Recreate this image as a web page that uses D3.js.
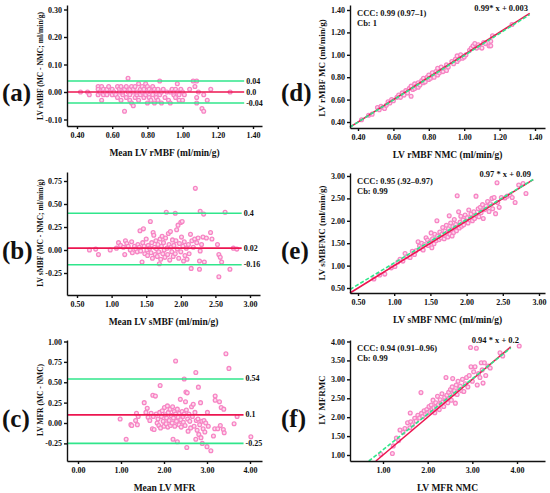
<!DOCTYPE html>
<html>
<head>
<meta charset="utf-8">
<script src="https://cdn.jsdelivr.net/npm/d3@7"></script>
<style>
  body { margin: 0; background: #fff; }
  text { font-family: "Liberation Serif", "Times New Roman", serif; font-weight: bold; fill: #111; }
</style>
</head>
<body>
<div id="chart"></div>
<script>
// DATA ----------------------------------------------------------------------
// Bland-Altman panels: [mean, difference MC - NMC]
const baRmbf = [[0.42,0.00],[0.46,0.00],[0.47,-0.01],[0.52,0.02],[0.52,0.01],[0.52,-0.01],[0.53,0.00],[0.54,0.02],[0.54,-0.03],[0.55,0.01],[0.55,-0.01],[0.56,0.00],[0.57,0.01],[0.57,-0.01],[0.58,0.02],[0.59,0.00],[0.60,-0.01],[0.60,0.01],[0.61,0.00],[0.62,-0.01],[0.63,0.02],[0.63,-0.02],[0.64,0.01],[0.64,0.00],[0.65,-0.03],[0.65,0.02],[0.66,-0.01],[0.66,0.00],[0.67,-0.07],[0.67,0.01],[0.68,-0.02],[0.68,0.02],[0.69,0.05],[0.69,0.00],[0.70,-0.01],[0.70,0.01],[0.70,-0.03],[0.71,0.02],[0.71,-0.04],[0.72,-0.05],[0.72,0.00],[0.72,0.01],[0.73,-0.02],[0.73,0.02],[0.74,-0.01],[0.74,0.00],[0.75,0.03],[0.75,-0.03],[0.76,0.01],[0.76,-0.01],[0.77,0.00],[0.77,0.02],[0.78,-0.02],[0.78,0.01],[0.79,0.03],[0.79,-0.01],[0.80,0.00],[0.80,-0.04],[0.80,0.02],[0.81,-0.02],[0.81,0.01],[0.82,-0.03],[0.82,0.00],[0.83,0.02],[0.83,-0.01],[0.84,-0.04],[0.84,0.01],[0.85,0.00],[0.85,-0.02],[0.86,0.01],[0.86,-0.03],[0.87,0.04],[0.87,-0.01],[0.88,0.00],[0.88,-0.04],[0.89,0.01],[0.90,-0.02],[0.91,0.00],[0.92,-0.03],[0.93,0.00],[0.93,-0.04],[0.94,0.01],[0.95,-0.01],[0.95,0.00],[0.96,-0.02],[0.96,0.01],[0.97,0.03],[0.97,0.00],[0.98,-0.01],[0.98,-0.03],[0.99,0.01],[1.00,-0.03],[1.00,0.00],[1.01,-0.01],[1.04,0.01],[1.06,0.04],[1.07,0.02],[1.08,0.04],[1.08,-0.02],[1.08,-0.04],[1.09,0.00],[1.11,-0.06],[1.12,-0.07],[1.12,-0.01],[1.14,-0.03],[1.16,0.01],[1.27,0.00]];

const baSmbf = [[0.68,0.00],[0.77,0.01],[0.81,-0.05],[0.98,0.00],[1.07,0.02],[1.10,0.08],[1.13,0.05],[1.17,0.03],[1.19,-0.05],[1.20,0.10],[1.22,0.07],[1.24,0.04],[1.27,0.00],[1.29,0.09],[1.30,-0.03],[1.33,0.04],[1.35,0.01],[1.37,-0.02],[1.38,0.06],[1.40,0.03],[1.41,0.21],[1.42,-0.01],[1.44,-0.13],[1.45,0.08],[1.46,0.23],[1.47,0.04],[1.48,-0.04],[1.50,0.12],[1.51,0.00],[1.52,-0.06],[1.53,0.05],[1.55,0.02],[1.56,0.31],[1.57,-0.03],[1.58,0.08],[1.59,-0.09],[1.60,0.19],[1.61,0.16],[1.62,0.03],[1.63,-0.05],[1.64,0.10],[1.65,0.01],[1.66,-0.07],[1.67,0.06],[1.68,-0.02],[1.69,-0.15],[1.70,0.12],[1.71,-0.10],[1.72,0.04],[1.73,0.15],[1.74,-0.04],[1.75,0.08],[1.76,0.00],[1.77,-0.08],[1.78,0.13],[1.79,0.41],[1.80,0.02],[1.81,-0.05],[1.82,0.18],[1.83,0.06],[1.84,-0.11],[1.85,0.20],[1.86,0.03],[1.87,-0.02],[1.88,0.11],[1.89,-0.07],[1.90,0.05],[1.92,0.40],[1.92,-0.04],[1.93,0.10],[1.94,0.22],[1.95,0.01],[1.96,0.27],[1.97,-0.09],[1.98,0.07],[2.00,0.30],[2.00,-0.02],[2.01,0.14],[2.02,0.31],[2.03,0.04],[2.04,-0.12],[2.05,0.09],[2.06,-0.06],[2.08,0.02],[2.09,-0.10],[2.11,0.06],[2.12,-0.04],[2.14,0.17],[2.15,-0.20],[2.16,0.10],[2.18,0.03],[2.20,0.12],[2.21,0.67],[2.23,0.08],[2.25,0.13],[2.27,-0.21],[2.27,-0.12],[2.28,0.42],[2.28,-0.01],[2.30,0.06],[2.32,0.14],[2.33,0.39],[2.34,-0.13],[2.37,0.13],[2.43,0.19],[2.45,0.12],[2.53,0.06],[2.55,-0.05],[2.55,-0.29],[2.57,-0.08],[2.59,-0.13],[2.64,0.41],[2.71,-0.21],[2.76,0.02],[2.81,0.01]];

const baMfr = [[0.98,0.05],[1.12,-0.20],[1.23,-0.02],[1.25,-0.03],[1.34,0.03],[1.36,0.12],[1.38,-0.02],[1.40,0.08],[1.54,0.25],[1.58,0.13],[1.61,0.18],[1.63,0.07],[1.67,0.03],[1.70,0.12],[1.73,-0.07],[1.74,0.34],[1.75,0.08],[1.77,-0.08],[1.80,0.33],[1.82,0.11],[1.84,0.00],[1.86,0.05],[1.88,-0.03],[1.90,0.13],[1.91,0.46],[1.92,-0.06],[1.94,0.08],[1.96,0.15],[1.98,0.02],[2.00,-0.04],[2.01,0.19],[2.03,0.10],[2.05,-0.01],[2.06,0.06],[2.08,0.21],[2.09,-0.05],[2.10,0.13],[2.12,0.03],[2.14,0.17],[2.15,-0.03],[2.17,0.09],[2.19,0.00],[2.20,0.20],[2.21,-0.20],[2.22,0.06],[2.24,0.14],[2.25,-0.04],[2.27,0.76],[2.27,0.11],[2.29,0.02],[2.31,-0.23],[2.31,0.17],[2.33,0.07],[2.35,-0.02],[2.36,0.12],[2.38,0.29],[2.39,0.04],[2.40,-0.05],[2.42,0.14],[2.44,0.08],[2.45,0.01],[2.47,0.54],[2.47,0.11],[2.49,-0.03],[2.50,0.26],[2.51,0.38],[2.52,0.16],[2.53,-0.30],[2.54,0.37],[2.55,0.05],[2.56,-0.10],[2.58,0.11],[2.60,0.02],[2.62,-0.06],[2.64,0.20],[2.66,0.08],[2.68,0.23],[2.70,-0.04],[2.72,0.13],[2.74,0.62],[2.74,-0.20],[2.75,0.03],[2.77,-0.09],[2.79,0.05],[2.80,0.44],[2.81,-0.14],[2.83,-0.02],[2.85,0.25],[2.86,-0.18],[2.88,0.02],[2.89,-0.25],[2.91,-0.07],[2.93,0.03],[2.95,-0.11],[2.97,0.00],[3.00,-0.29],[3.01,0.13],[3.03,-0.04],[3.09,-0.34],[3.15,-0.16],[3.18,-0.07],[3.19,0.33],[3.19,0.28],[3.25,-0.07],[3.29,0.26],[3.31,-0.03],[3.33,0.19],[3.38,-0.08],[3.39,0.17],[3.40,-0.12],[3.44,0.85],[3.51,0.67],[3.63,-0.01],[3.70,0.08],[4.02,-0.17]];

// Correlation panels: [NMC, MC]
const scRmbf = [[0.42,0.42],[0.46,0.46],[0.48,0.47],[0.51,0.53],[0.52,0.51],[0.53,0.54],[0.54,0.53],[0.55,0.52],[0.56,0.55],[0.57,0.58],[0.58,0.57],[0.59,0.60],[0.60,0.59],[0.62,0.62],[0.63,0.64],[0.64,0.62],[0.65,0.66],[0.66,0.64],[0.67,0.68],[0.68,0.66],[0.69,0.70],[0.70,0.63],[0.70,0.72],[0.71,0.69],[0.72,0.74],[0.72,0.70],[0.73,0.72],[0.74,0.75],[0.74,0.71],[0.75,0.73],[0.76,0.77],[0.77,0.75],[0.77,0.79],[0.78,0.76],[0.79,0.80],[0.80,0.78],[0.80,0.82],[0.81,0.79],[0.82,0.81],[0.82,0.84],[0.83,0.80],[0.84,0.85],[0.85,0.82],[0.85,0.88],[0.86,0.84],[0.87,0.86],[0.87,0.89],[0.88,0.85],[0.89,0.88],[0.90,0.86],[0.90,0.91],[0.91,0.89],[0.93,0.94],[0.94,0.92],[0.95,0.96],[0.96,0.94],[0.96,0.99],[0.97,0.96],[0.98,1.00],[0.99,0.97],[1.00,0.98],[1.01,1.00],[1.03,1.04],[1.04,1.06],[1.05,1.08],[1.06,1.10],[1.07,1.06],[1.08,1.09],[1.09,1.07],[1.10,1.06],[1.11,1.11],[1.12,1.10],[1.14,1.08],[1.15,1.12],[1.15,1.08],[1.16,1.17],[1.27,1.27]];

const scSmbf = [[0.72,0.70],[0.80,0.79],[0.87,0.81],[0.96,0.95],[1.01,0.98],[1.05,1.08],[1.08,1.14],[1.12,1.10],[1.15,1.27],[1.18,1.20],[1.22,1.18],[1.25,1.32],[1.28,1.25],[1.30,1.33],[1.33,1.53],[1.35,1.44],[1.36,1.38],[1.38,1.50],[1.40,1.35],[1.42,1.47],[1.44,1.62],[1.46,1.57],[1.47,1.45],[1.49,1.52],[1.51,1.73],[1.52,1.40],[1.53,1.60],[1.55,1.49],[1.56,1.70],[1.58,1.56],[1.59,2.00],[1.60,1.66],[1.62,1.58],[1.63,1.75],[1.65,1.62],[1.66,1.70],[1.67,1.85],[1.69,1.60],[1.70,1.77],[1.71,1.67],[1.72,1.90],[1.73,1.72],[1.74,1.64],[1.75,1.82],[1.76,2.11],[1.77,1.70],[1.78,1.95],[1.79,1.78],[1.80,1.66],[1.81,1.87],[1.82,1.74],[1.83,2.03],[1.84,1.82],[1.85,1.92],[1.86,1.78],[1.87,2.56],[1.88,1.86],[1.89,2.20],[1.90,1.84],[1.91,1.97],[1.92,2.10],[1.93,1.88],[1.95,2.02],[1.96,1.91],[1.98,2.13],[2.00,1.98],[2.01,2.07],[2.02,1.95],[2.03,2.24],[2.05,2.02],[2.06,2.15],[2.08,2.00],[2.10,2.20],[2.11,2.05],[2.13,2.55],[2.14,2.12],[2.16,2.27],[2.17,2.09],[2.19,2.30],[2.20,2.18],[2.22,2.36],[2.23,2.05],[2.25,2.25],[2.27,2.33],[2.29,2.43],[2.31,2.21],[2.33,2.38],[2.35,2.50],[2.36,2.27],[2.38,2.52],[2.40,2.16],[2.42,2.85],[2.43,2.41],[2.45,2.30],[2.48,2.52],[2.53,2.51],[2.56,2.55],[2.60,2.57],[2.63,2.52],[2.67,2.41],[2.72,2.80],[2.78,2.83],[2.82,2.61]];

const scMfr = [[0.95,1.02],[1.21,1.04],[1.23,1.24],[1.30,1.45],[1.35,1.38],[1.38,1.66],[1.45,1.60],[1.49,1.70],[1.55,1.85],[1.60,1.72],[1.61,2.11],[1.62,1.88],[1.66,1.80],[1.71,1.97],[1.74,1.90],[1.78,2.05],[1.82,1.98],[1.85,2.65],[1.86,2.10],[1.89,2.02],[1.92,2.17],[1.95,2.08],[1.98,2.20],[2.00,2.12],[2.03,2.28],[2.05,2.15],[2.08,2.32],[2.10,2.20],[2.12,2.45],[2.14,2.25],[2.16,2.12],[2.18,2.38],[2.20,2.28],[2.22,2.55],[2.24,2.33],[2.26,2.20],[2.28,2.46],[2.30,2.35],[2.32,2.62],[2.34,2.40],[2.36,2.28],[2.38,2.52],[2.40,2.43],[2.41,3.05],[2.43,2.58],[2.45,2.38],[2.47,2.66],[2.49,2.50],[2.51,2.73],[2.53,2.45],[2.55,2.80],[2.56,3.02],[2.58,2.62],[2.60,2.70],[2.62,2.37],[2.64,2.85],[2.66,2.60],[2.68,2.95],[2.70,2.75],[2.73,2.82],[2.76,2.70],[2.78,3.00],[2.81,2.68],[2.84,2.88],[2.87,3.05],[2.90,2.80],[2.93,3.10],[2.96,3.84],[2.97,3.33],[3.00,2.95],[3.03,3.20],[3.06,3.33],[3.09,3.82],[3.11,2.85],[3.14,3.15],[3.17,3.05],[3.20,3.44],[3.22,3.25],[3.24,2.90],[3.27,3.44],[3.30,3.10],[3.35,3.35],[3.40,3.30],[3.62,3.70],[3.68,3.62],[4.05,3.88]];

// bias and limits of agreement (upper, bias, lower) with printed labels
const limitsRmbf = [0.04, 0.0, -0.04];
const limitLabelsRmbf = ['0.04', '0.0', '-0.04'];
const limitsSmbf = [0.4, 0.02, -0.16];
const limitLabelsSmbf = ['0.4', '0.02', '-0.16'];
const limitsMfr = [0.54, 0.1, -0.25];
const limitLabelsMfr = ['0.54', '0.1', '-0.25'];

// regression fits for correlation panels
const fitSlope = [0.99, 0.97, 0.94];
const fitIntercept = [0.003, 0.09, 0.2];
const fitLabels = ['0.99* x + 0.003', '0.97 * x + 0.09', '0.94 * x + 0.2'];
const cccLabels = ['CCC: 0.99 (0.97\u20131)', 'CCC: 0.95 (.92\u20130.97)', 'CCC: 0.94 (0.91\u20130.96)'];
const cbLabels = ['Cb: 1', 'Cb: 0.99', 'Cb: 0.99'];

// tick values
const ticksRmbfX = [0.4, 0.6, 0.8, 1.0, 1.2, 1.4];
const ticksRmbfBaY = [-0.1, 0.0, 0.1, 0.2, 0.3];
const ticksSmbfX = [0.5, 1.0, 1.5, 2.0, 2.5, 3.0];
const ticksSmbfBaY = [-0.25, 0.0, 0.25, 0.5, 0.75];
const ticksMfrBaX = [0, 1, 2, 3, 4];
const ticksMfrBaY = [-0.25, 0.0, 0.25, 0.5, 0.75, 1.0];
const ticksRmbfY = [0.4, 0.6, 0.8, 1.0, 1.2, 1.4];
const ticksSmbfY = [0.5, 1.0, 1.5, 2.0, 2.5, 3.0];
const ticksMfrX = [1, 2, 3, 4];
const ticksMfrY = [1.0, 1.5, 2.0, 2.5, 3.0, 3.5, 4.0];

// STYLE ----------------------------------------------------------------------
const PINK = '#f785c4';
const PINK_FILL = '#fcdcee';
const RED = '#ec1650';
const GREEN = '#30e68b';
const fmt = d => d.toFixed(2);

const svg = d3.select('#chart')
  .append('svg')
  .attr('width', 550)
  .attr('height', 493);

// build a scale from two tick anchors and stretch it to the axis box
function boxScale(v0, p0, v1, p1, lo, hi) {
  const s = d3.scaleLinear().domain([v0, v1]).range([p0, p1]);
  return s.domain([s.invert(lo), s.invert(hi)]).range([lo, hi]);
}

function drawAxes(g, cfg, x, y) {
  const xAxis = d3.axisBottom(x).tickValues(cfg.xTicks).tickFormat(fmt)
    .tickSize(3).tickSizeOuter(0).tickPadding(3);
  const yAxis = d3.axisLeft(y).tickValues(cfg.yTicks).tickFormat(fmt)
    .tickSize(3).tickSizeOuter(0).tickPadding(2);

  const gx = g.append('g')
    .attr('transform', 'translate(0,' + cfg.box.bottom + ')')
    .call(xAxis);
  const gy = g.append('g')
    .attr('transform', 'translate(' + cfg.box.left + ',0)')
    .call(yAxis);

  [gx, gy].forEach(a => {
    a.selectAll('path, line').attr('stroke', '#111').attr('stroke-width', 1.4);
    a.selectAll('text').attr('font-size', 8)
      .attr('font-family', '"Liberation Serif", "Times New Roman", serif')
      .attr('font-weight', 'bold').attr('fill', '#111');
  });

  // axis titles
  g.append('text')
    .attr('x', (cfg.box.left + cfg.box.right) / 2)
    .attr('y', cfg.box.bottom + 30)
    .attr('text-anchor', 'middle')
    .attr('font-size', 9.5)
    .text(cfg.xTitle);

  g.append('text')
    .attr('transform', 'translate(' + cfg.yTitleX + ',' + cfg.yTitleY + ') rotate(-90)')
    .attr('text-anchor', 'middle')
    .attr('dominant-baseline', 'central')
    .attr('font-size', cfg.yTitleSize)
    .text(cfg.yTitle);

  // panel letter
  g.append('text')
    .attr('x', cfg.letterX)
    .attr('y', cfg.letterY)
    .attr('dominant-baseline', 'central')
    .attr('font-size', 25)
    .text(cfg.letter);
}

function drawPoints(g, data, x, y) {
  g.append('g')
    .selectAll('circle')
    .data(data)
    .join('circle')
    .attr('cx', d => x(d[0]))
    .attr('cy', d => y(d[1]))
    .attr('r', 1.9)
    .attr('fill', PINK_FILL)
    .attr('stroke', PINK)
    .attr('stroke-width', 1.3);
}

// Bland-Altman panel
function baPanel(cfg) {
  const g = svg.append('g');
  const x = boxScale(cfg.xAnchor[0], cfg.xAnchor[1], cfg.xAnchor[2], cfg.xAnchor[3], cfg.box.left, cfg.box.right);
  const y = boxScale(cfg.yAnchor[0], cfg.yAnchor[1], cfg.yAnchor[2], cfg.yAnchor[3], cfg.box.bottom, cfg.box.top);

  drawPoints(g, cfg.data, x, y);

  cfg.limits.forEach((v, i) => {
    g.append('line')
      .attr('x1', cfg.box.left)
      .attr('x2', x(cfg.lineEnd))
      .attr('y1', y(v))
      .attr('y2', y(v))
      .attr('stroke', i === 1 ? RED : GREEN)
      .attr('stroke-width', 1.6);
    g.append('text')
      .attr('x', x(cfg.lineEnd) + 2)
      .attr('y', y(v))
      .attr('dominant-baseline', 'central')
      .attr('font-size', 8)
      .text(cfg.limitLabels[i]);
  });

  drawAxes(g, cfg, x, y);
}

// correlation panel
function scatterPanel(cfg) {
  const g = svg.append('g');
  const x = boxScale(cfg.xAnchor[0], cfg.xAnchor[1], cfg.xAnchor[2], cfg.xAnchor[3], cfg.box.left, cfg.box.right);
  const y = boxScale(cfg.yAnchor[0], cfg.yAnchor[1], cfg.yAnchor[2], cfg.yAnchor[3], cfg.box.bottom, cfg.box.top);

  drawPoints(g, cfg.data, x, y);

  const xMin = x.domain()[0];
  const yMin = y.domain()[0];
  const m = cfg.slope, b = cfg.intercept;

  // line of identity
  const idStart = Math.max(xMin, yMin);
  g.append('line')
    .attr('x1', x(idStart)).attr('y1', y(idStart))
    .attr('x2', x(cfg.lineEnd)).attr('y2', y(cfg.lineEnd))
    .attr('stroke', RED).attr('stroke-width', 1.6);

  // regression line
  const fStart = Math.max(xMin, (yMin - b) / m);
  g.append('line')
    .attr('x1', x(fStart)).attr('y1', y(m * fStart + b))
    .attr('x2', x(cfg.lineEnd)).attr('y2', y(m * cfg.lineEnd + b))
    .attr('stroke', GREEN).attr('stroke-width', 1.6)
    .attr('stroke-dasharray', '4,2');

  g.append('text')
    .attr('x', cfg.box.left + 7).attr('y', cfg.box.top + 11)
    .attr('font-size', 8.5).text(cfg.ccc);
  g.append('text')
    .attr('x', cfg.box.left + 7).attr('y', cfg.box.top + 21)
    .attr('font-size', 8.5).text(cfg.cb);
  g.append('text')
    .attr('x', cfg.fitX).attr('y', cfg.box.top + cfg.fitDy)
    .attr('text-anchor', 'end')
    .attr('font-size', 8.5).text(cfg.fit);

  drawAxes(g, cfg, x, y);
}

// PANELS ---------------------------------------------------------------------
baPanel({
  letter: '(a)', letterX: 2, letterY: 92,
  box: {left: 67, right: 262, top: 5, bottom: 126},
  xAnchor: [0.4, 77, 1.4, 253], yAnchor: [0.0, 92, 0.3, 9.5],
  xTicks: ticksRmbfX, yTicks: ticksRmbfBaY,
  data: baRmbf, limits: limitsRmbf, limitLabels: limitLabelsRmbf, lineEnd: 1.35,
  xTitle: 'Mean LV rMBF (ml/min/g)',
  yTitle: 'LV rMBF (MC - NMC; ml/min/g)', yTitleX: 40, yTitleY: 66, yTitleSize: 7.5
});

baPanel({
  letter: '(b)', letterX: 2, letterY: 250,
  box: {left: 67, right: 260, top: 172, bottom: 295},
  xAnchor: [0.5, 77, 3.0, 250], yAnchor: [0.0, 250, 0.75, 181],
  xTicks: ticksSmbfX, yTicks: ticksSmbfBaY,
  data: baSmbf, limits: limitsSmbf, limitLabels: limitLabelsSmbf, lineEnd: 2.88,
  xTitle: 'Mean LV sMBF (ml/min/g)',
  yTitle: 'LV sMBF (MC - NMC; ml/min/g)', yTitleX: 40, yTitleY: 233, yTitleSize: 7.5
});

baPanel({
  letter: '(c)', letterX: 2, letterY: 418,
  box: {left: 67, right: 262, top: 340, bottom: 461},
  xAnchor: [0, 78, 4, 250], yAnchor: [0.0, 423, 1.0, 341.5],
  xTicks: ticksMfrBaX, yTicks: ticksMfrBaY,
  data: baMfr, limits: limitsMfr, limitLabels: limitLabelsMfr, lineEnd: 3.85,
  xTitle: 'Mean LV MFR',
  yTitle: 'LV MFR (MC - NMC)', yTitleX: 40, yTitleY: 400, yTitleSize: 7.5
});

[
  {letter: '(d)', letterY: 92, box: {left: 350, right: 545, top: 5, bottom: 128},
   xAnchor: [0.4, 358, 1.4, 535], yAnchor: [0.4, 122, 1.4, 10],
   xTicks: ticksRmbfX, yTicks: ticksRmbfY, data: scRmbf, lineEnd: 1.37, fitX: 528, fitDy: 6,
   xTitle: 'LV rMBF NMC (ml/min/g)', yTitle: 'LV rMBF MC (ml/min/g)', yTitleY: 68},
  {letter: '(e)', letterY: 250, box: {left: 350, right: 545, top: 173, bottom: 293},
   xAnchor: [0.5, 358, 3.0, 539], yAnchor: [0.5, 288, 3.0, 176],
   xTicks: ticksSmbfX, yTicks: ticksSmbfY, data: scSmbf, lineEnd: 2.92, fitX: 531, fitDy: 4,
   xTitle: 'LV sMBF NMC (ml/min/g)', yTitle: 'LV sMBFMC (ml/min/g)', yTitleY: 233},
  {letter: '(f)', letterY: 418, box: {left: 350, right: 545, top: 340, bottom: 461},
   xAnchor: [1, 383, 4, 517], yAnchor: [1.0, 455, 4.0, 341.5],
   xTicks: ticksMfrX, yTicks: ticksMfrY, data: scMfr, lineEnd: 3.86, fitX: 519, fitDy: 3,
   xTitle: 'LV MFR NMC', yTitle: 'LV MFRMC', yTitleY: 400}
].forEach((cfg, i) => {
  scatterPanel(Object.assign(cfg, {
    letterX: 281, yTitleX: 322, yTitleSize: 9,
    slope: fitSlope[i], intercept: fitIntercept[i],
    fit: fitLabels[i], ccc: cccLabels[i], cb: cbLabels[i]
  }));
});
</script>
</body>
</html>
